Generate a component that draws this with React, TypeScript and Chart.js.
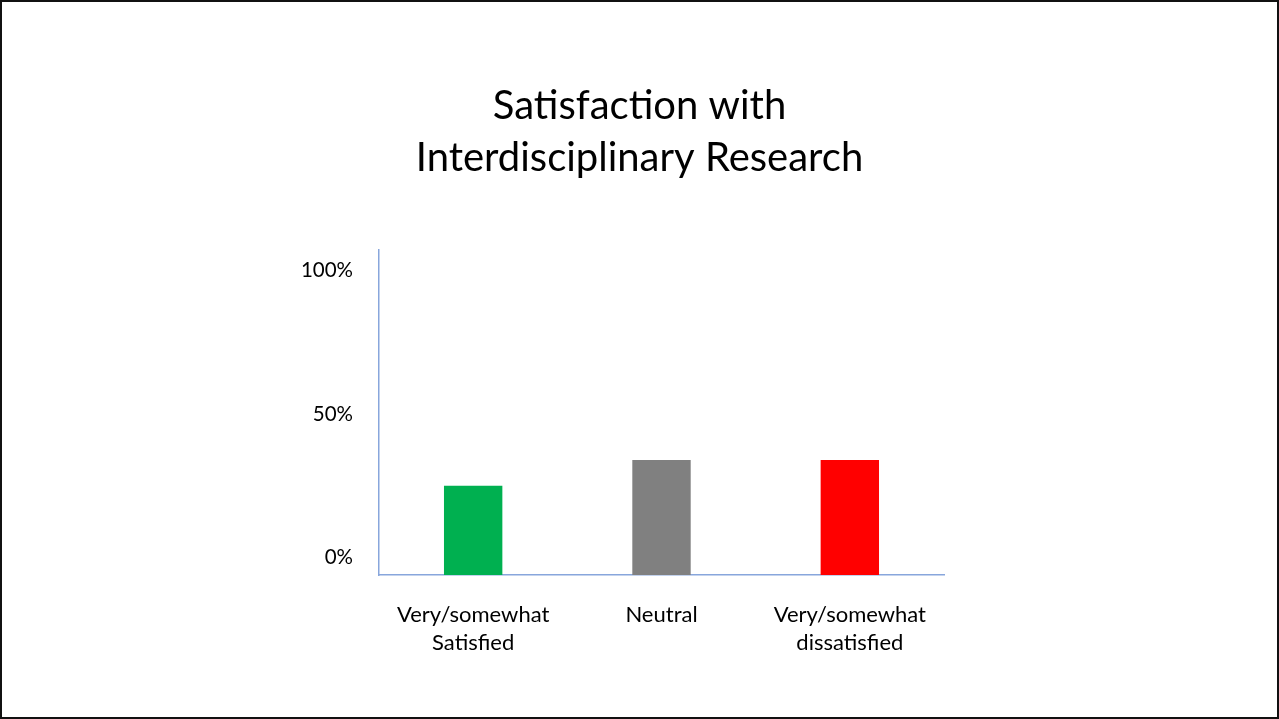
import React, { useEffect, useRef } from "react";
import { Chart, registerables } from "chart.js";

Chart.register(...registerables);

const titleLines = ["Satisfaction with", "Interdisciplinary Research"];
const categories: (string | string[])[] = [
  ["Very/somewhat", "Satisfied"],
  "Neutral",
  ["Very/somewhat", "dissatisfied"],
];
const shares = [25, 34, 34];
const barColors = ["#00B050", "#808080", "#FF0000"];
const yTicks = [0, 50, 100];
const yMin = -6;
const yMax = 107;

const FONT = "Lato, 'Open Sans', sans-serif";
const AXIS_BLUE = "#88a6dc";

export default function App() {
  const ref = useRef<HTMLCanvasElement | null>(null);

  useEffect(() => {
    if (!ref.current) return;
    const chart = new Chart(ref.current, {
      type: "bar",
      data: {
        labels: categories,
        datasets: [
          {
            data: shares,
            base: yMin,
            backgroundColor: barColors,
            borderWidth: 0,
            barPercentage: 0.31,
            categoryPercentage: 1,
          } as any,
        ],
      },
      options: {
        animation: false,
        responsive: true,
        maintainAspectRatio: false,
        layout: { padding: { left: 255, right: 255, top: 0, bottom: 42 } },
        plugins: {
          legend: { display: false },
          tooltip: { enabled: false },
          title: {
            display: true,
            text: titleLines,
            color: "#000",
            font: { family: FONT, size: 40, weight: "normal", lineHeight: 1.3 },
            padding: { top: 78, bottom: 66 },
          },
        },
        scales: {
          x: {
            grid: { display: false, drawTicks: false },
            border: { display: true, color: AXIS_BLUE, width: 1.5 },
            ticks: {
              color: "#000",
              padding: 26,
              maxRotation: 0,
              font: { family: FONT, size: 22, lineHeight: 1.27 },
            },
            afterFit: (s: any) => {
              s.height = 100;
            },
          },
          y: {
            min: yMin,
            max: yMax,
            grid: { display: false, drawTicks: false },
            border: { display: true, color: AXIS_BLUE, width: 1.5 },
            afterBuildTicks: (s: any) => {
              s.ticks = yTicks.map((v) => ({ value: v }));
            },
            ticks: {
              color: "#000",
              padding: 26,
              font: { family: FONT, size: 20.5 },
              callback: (v: any) => `${v}%`,
            },
            afterFit: (s: any) => {
              s.width = 122;
            },
          },
          yRight: {
            position: "right",
            min: yMin,
            max: yMax,
            grid: { display: false, drawTicks: false },
            border: { display: false },
            ticks: { display: false },
            afterFit: (s: any) => {
              s.width = 78;
            },
          },
        },
      },
    });
    return () => chart.destroy();
  }, []);

  return (
    <div
      style={{
        position: "fixed",
        left: 0,
        top: 0,
        width: 1279,
        height: 719,
        boxSizing: "border-box",
        border: "2px solid #111",
        background: "#fff",
      }}
    >
      <div style={{ position: "absolute", left: 0, top: 0, width: 1275, height: 715 }}>
        <canvas ref={ref} />
      </div>
    </div>
  );
}
